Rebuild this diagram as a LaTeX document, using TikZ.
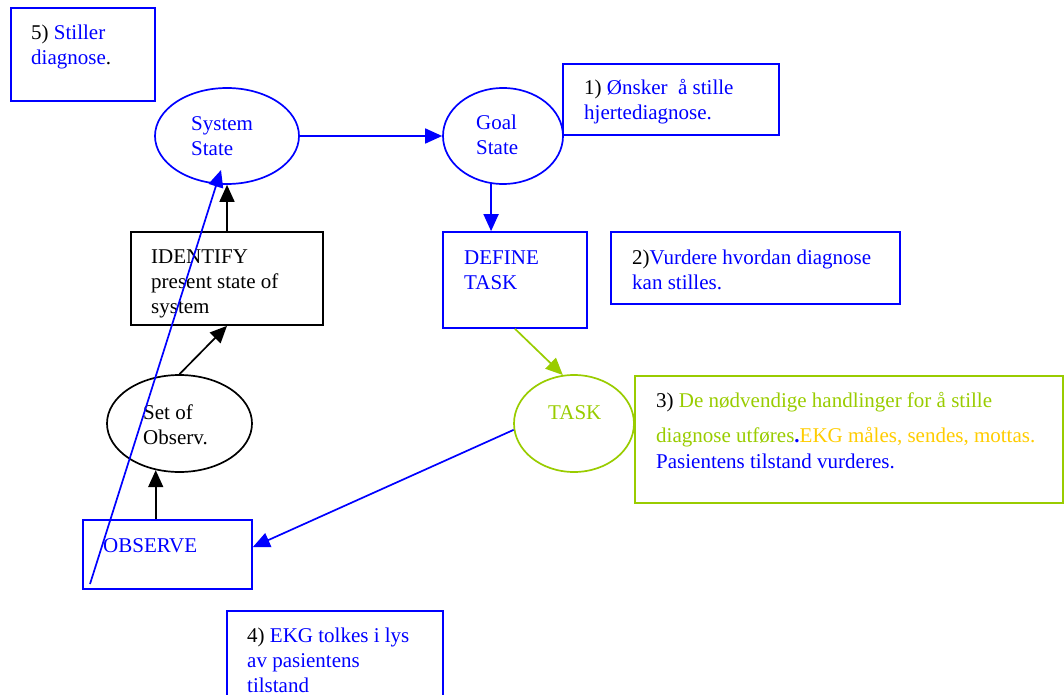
\documentclass[tikz,border=0pt]{standalone}
\usepackage{fontspec}
\setmainfont{Liberation Serif}
\usetikzlibrary{arrows.meta,shapes.geometric}
\definecolor{wordblue}{RGB}{0,0,255}
\definecolor{wordlime}{RGB}{153,204,0}
\definecolor{wordgold}{RGB}{255,204,0}

\begin{document}
\begin{tikzpicture}[x=1pt,y=-1pt,
    box/.style={rectangle,draw,line width=1.7pt,inner sep=0pt},
    oval/.style={ellipse,draw,line width=1.7pt,inner sep=0pt},
    txt/.style={anchor=base west,align=left,inner sep=0pt,font=\fontsize{21}{25}\selectfont},
    arr/.style={line width=1.7pt,-{Triangle[length=17pt,width=15pt]}}]
    \useasboundingbox (0,0) rectangle (1064,695);
    \clip (0,0) rectangle (1064,695);

    % shapes
    \node[box,wordblue,minimum width=144pt,minimum height=93pt] (stiller) at (83,54.5) {};
    \node[oval,wordblue,minimum width=144pt,minimum height=96pt] (sys) at (227,136) {};
    \node[oval,wordblue,minimum width=120pt,minimum height=96pt] (goal) at (503,136) {};
    \node[box,wordblue,minimum width=216pt,minimum height=71pt] (onsker) at (671,99.5) {};
    \node[box,wordblue,minimum width=144pt,minimum height=96pt] (define) at (515,280) {};
    \node[box,wordblue,minimum width=289pt,minimum height=72pt] (vurdere) at (755.5,268) {};
    \node[box,minimum width=192pt,minimum height=93pt] (identify) at (227,278.5) {};
    \node[oval,minimum width=145pt,minimum height=97pt] (setobs) at (179.5,423.5) {};
    \node[oval,wordlime,minimum width=120pt,minimum height=97pt] (task) at (574,423.5) {};
    \node[box,wordlime,minimum width=428pt,minimum height=127pt] (handling) at (849,439.5) {};
    \node[box,wordblue,minimum width=169pt,minimum height=69pt] (observe) at (167.5,554.5) {};
    \node[box,wordblue,minimum width=216pt,minimum height=110pt] (tolkes) at (335,666) {};

    % texts (placed at the baseline of their last line)
    \node[txt] (t5) at (31,65) {5) \textcolor{wordblue}{Stiller}\\\textcolor{wordblue}{diagnose}.};
    \node[txt,wordblue] (tsys) at (191,156) {System\\State};
    \node[txt,wordblue] (tgoal) at (476,155) {Goal\\State};
    \node[txt] (t1) at (584,120) {1) \textcolor{wordblue}{Ønsker~\ å stille}\\\textcolor{wordblue}{hjertediagnose.}};
    \node[txt,wordblue] (tdefine) at (464,289) {DEFINE\\TASK};
    \node[txt] (t2) at (632,289) {2)\textcolor{wordblue}{Vurdere hvordan diagnose}\\\textcolor{wordblue}{kan stilles.}};
    \node[txt] (tidentify) at (151,313) {IDENTIFY\\present state of\\system};
    \node[txt] (tsetobs) at (143,444) {Set of\\Observ.};
    \node[txt,wordlime] (ttask) at (548,419) {TASK};
    \node[txt] (t3) at (656,468) {3) \textcolor{wordlime}{De nødvendige handlinger for å stille}\\[10pt]\textcolor{wordlime}{diagnose utføres}\textcolor{wordblue}{\textbf{.}}\textcolor{wordgold}{EKG måles, sendes, mottas.}\\[1pt]\textcolor{wordblue}{Pasientens tilstand vurderes.}};
    \node[txt,wordblue] (tobserve) at (103,552) {OBSERVE};
    \node[txt] (t4) at (247,692) {4) \textcolor{wordblue}{EKG tolkes i lys}\\\textcolor{wordblue}{av pasientens}\\\textcolor{wordblue}{tilstand}};

    % free ends of the long arrow
    \coordinate (obsfoot) at (90,584);
    \coordinate (systip) at (221,170);

    % connectors
    \draw[arr,wordblue] (sys.east) -- (goal.west);
    \draw[arr,wordblue] (goal.256) -- (goal.256 |- define.north);
    \draw[arr,wordlime] (define.south) -- (task.103);
    \draw[arr,wordblue] (task.186) -- (observe.5);
    \draw[arr] (setobs.243 |- observe.north) -- (setobs.243);
    \draw[arr] (setobs.north) -- (identify.south);
    \draw[arr] (identify.north) -- (sys.south);
    \draw[arr,wordblue] (obsfoot) -- (systip);
\end{tikzpicture}
\end{document}
